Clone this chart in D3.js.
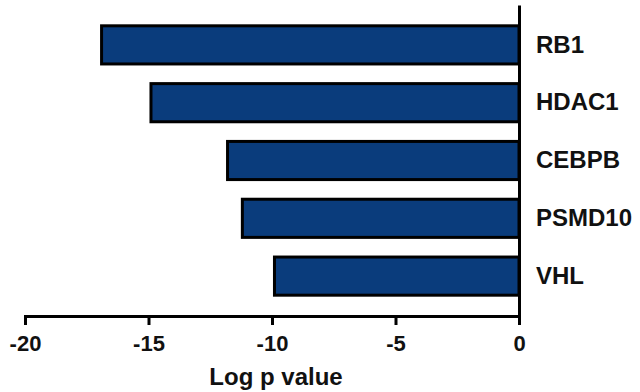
<!DOCTYPE html>
<html>
<head>
<meta charset="utf-8">
<script src="https://cdn.jsdelivr.net/npm/d3@7"></script>
<style>
  html, body { margin: 0; padding: 0; background: #fff; }
  svg { display: block; font-family: "Liberation Sans", Arial, sans-serif; font-weight: bold; }
</style>
</head>
<body>
<svg id="chart" width="640" height="392"></svg>
<script>
// Gene enrichment: log p values
const genes = ["RB1", "HDAC1", "CEBPB", "PSMD10", "VHL"];
const logP = [-16.9, -14.9, -11.8, -11.2, -9.9];
const xTicks = [-20, -15, -10, -5, 0];
const xTitle = "Log p value";

const svg = d3.select("#chart");
const barFill = "#0a3c7c";

const x = d3.scaleLinear().domain([-20, 0]).range([25, 519]);
const y = d3.scaleBand().domain(genes).range([5, 316])
  .paddingInner(0.34).paddingOuter(0.36);

const axisY = 316;

// bars
svg.append("g").selectAll("rect")
  .data(genes)
  .join("rect")
  .attr("x", (d, i) => x(logP[i]))
  .attr("y", d => y(d))
  .attr("width", (d, i) => x(0) - x(logP[i]))
  .attr("height", y.bandwidth())
  .attr("fill", barFill)
  .attr("stroke", "#000")
  .attr("stroke-width", 3);

// bottom axis
const gx = svg.append("g")
  .attr("transform", `translate(0,${axisY})`)
  .call(d3.axisBottom(x).tickValues(xTicks).tickFormat(d => String(d))
    .tickSize(9).tickSizeOuter(0).tickPadding(10));
gx.select(".domain").attr("stroke-width", 3).attr("stroke-linecap", "square");
gx.selectAll(".tick line").attr("stroke-width", 3);
gx.selectAll(".tick text")
  .attr("font-size", 22).attr("font-family", "Liberation Sans, Arial, sans-serif")
  .attr("font-weight", "bold").attr("fill", "#111");

// right-hand category axis at zero
const gy = svg.append("g")
  .attr("transform", `translate(${x(0)},0)`)
  .call(d3.axisRight(y).tickSize(0).tickSizeOuter(0).tickPadding(17));
gy.select(".domain").attr("stroke-width", 3);
gy.selectAll(".tick text")
  .attr("font-size", 24).attr("font-family", "Liberation Sans, Arial, sans-serif")
  .attr("font-weight", "bold").attr("fill", "#111");

// axis title
svg.append("text")
  .attr("x", 276).attr("y", 385)
  .attr("text-anchor", "middle")
  .attr("font-size", 24)
  .attr("fill", "#111")
  .text(xTitle);
</script>
</body>
</html>
